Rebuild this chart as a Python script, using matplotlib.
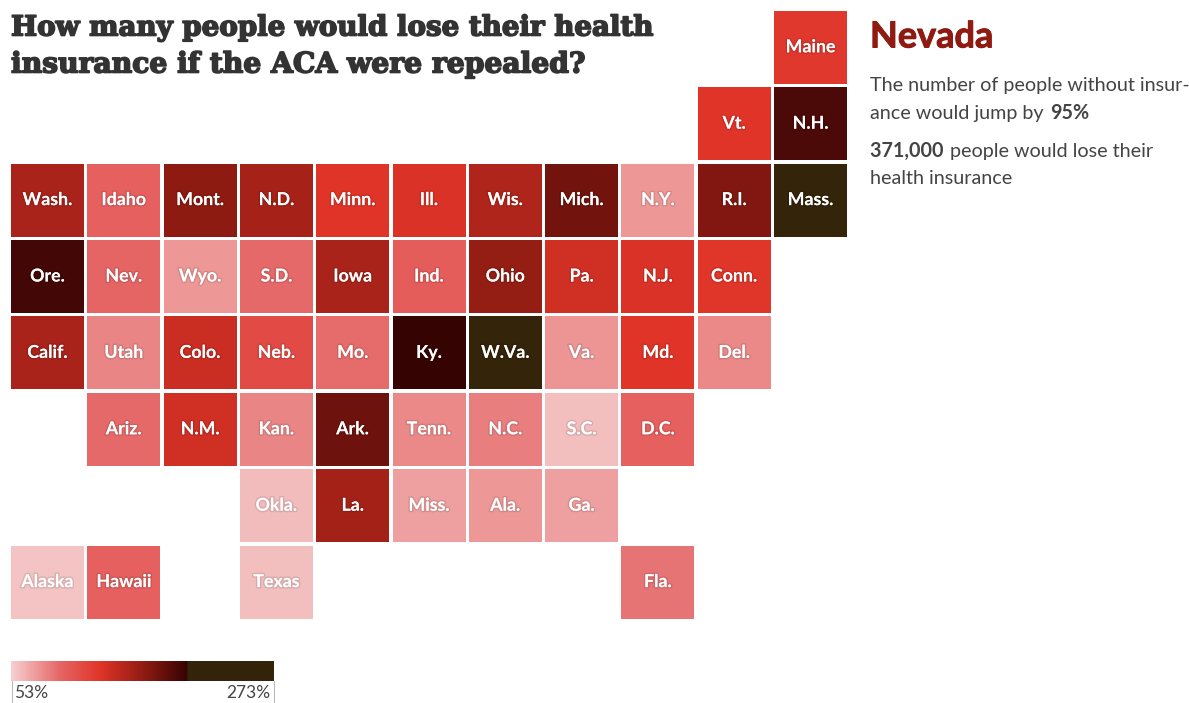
import matplotlib
matplotlib.use("Agg")
import matplotlib.pyplot as plt
import matplotlib.patheffects as pe
from matplotlib.colors import LinearSegmentedColormap, Normalize
from matplotlib.patches import Rectangle
import numpy as np

states = ["Maine", "Vt.", "N.H.",
          "Wash.", "Idaho", "Mont.", "N.D.", "Minn.", "Ill.", "Wis.", "Mich.", "N.Y.", "R.I.", "Mass.",
          "Ore.", "Nev.", "Wyo.", "S.D.", "Iowa", "Ind.", "Ohio", "Pa.", "N.J.", "Conn.",
          "Calif.", "Utah", "Colo.", "Neb.", "Mo.", "Ky.", "W.Va.", "Va.", "Md.", "Del.",
          "Ariz.", "N.M.", "Kan.", "Ark.", "Tenn.", "N.C.", "S.C.", "D.C.",
          "Okla.", "La.", "Miss.", "Ala.", "Ga.",
          "Alaska", "Hawaii", "Texas", "Fla."]
columns = [10, 9, 10,
           0, 1, 2, 3, 4, 5, 6, 7, 8, 9, 10,
           0, 1, 2, 3, 4, 5, 6, 7, 8, 9,
           0, 1, 2, 3, 4, 5, 6, 7, 8, 9,
           1, 2, 3, 4, 5, 6, 7, 8,
           3, 4, 5, 6, 7,
           0, 1, 3, 8]
rows = [0, 1, 1,
        2, 2, 2, 2, 2, 2, 2, 2, 2, 2, 2,
        3, 3, 3, 3, 3, 3, 3, 3, 3, 3,
        4, 4, 4, 4, 4, 4, 4, 4, 4, 4,
        5, 5, 5, 5, 5, 5, 5, 5,
        6, 6, 6, 6, 6,
        7, 7, 7, 7]
jump_pct = [125, 128, 192,
            152, 98, 165, 154, 128, 130, 150, 176, 75, 170, 273,
            195, 95, 75, 93, 152, 100, 162, 135, 130, 127,
            152, 82, 138, 112, 92, 200, 250, 76, 128, 81,
            93, 135, 82, 178, 81, 85, 60, 98,
            61, 155, 72, 75, 72,
            58, 98, 60, 89]
scale_min, scale_max = 53, 273

cmap = LinearSegmentedColormap.from_list("aca", [
    (0.0, "#f6d0d0"), (0.19, "#e56464"), (0.34, "#e03428"), (0.5, "#921c13"),
    (0.67, "#360303"), (0.672, "#33240a"), (1.0, "#33240a")], N=512)
norm = Normalize(scale_min, scale_max)

W, H = 1189, 703
fig = plt.figure(figsize=(W / 100, H / 100), dpi=100, facecolor="white")
ax = fig.add_axes([0, 0, 1, 1])
ax.set_xlim(0, W)
ax.set_ylim(H, 0)
ax.axis("off")

body = "Lato"
x0, y0, px, py, side = 11, 10.8, 76.3, 76.4, 73
label_fx = [pe.withStroke(linewidth=2.2, foreground=(0, 0, 0, 0.10))]
for s, c, r, v in zip(states, columns, rows, jump_pct):
    ax.add_patch(Rectangle((x0 + c * px, y0 + r * py), side, side, fc=cmap(norm(v)), ec="none"))
    ax.text(x0 + c * px + side / 2, y0 + r * py + side / 2 - 0.5, s, color="white", fontsize=12.8,
            fontweight="bold", family=body, ha="center", va="center", path_effects=label_fx)

title_fx = [pe.withStroke(linewidth=1.2, foreground="#333333")]
for y, line, size in [(28, "How many people would lose their health", 19.95),
                      (65, "insurance if the ACA were repealed?", 20.3)]:
    ax.text(11, y, line, fontsize=size, fontweight="bold", family="DejaVu Serif",
            color="#333333", ha="left", va="center", path_effects=title_fx)

ax.text(870, 37, "Nevada", fontsize=26, fontweight="bold", family=body, color="#8f1a12",
        ha="left", va="center", path_effects=[pe.withStroke(linewidth=0.7, foreground="#8f1a12")])

renderer = fig.canvas.get_renderer()
def runs(x, y, parts):
    for text, weight in parts:
        t = ax.text(x, y, text, fontsize=14.2, fontweight=weight, family=body, color="#444444",
                    ha="left", va="center")
        x += t.get_window_extent(renderer).width + (1.5 if text.endswith(" ") else 0)

runs(870, 85, [("The number of people without insur-", "normal")])
runs(870, 113, [("ance would jump by ", "normal"), ("95%", "bold")])
runs(870, 151, [("371,000 ", "bold"), ("people would lose their", "normal")])
runs(870, 179, [("health insurance", "normal")])

# colour legend
lx0, lx1, ly0, ly1 = 11, 273.5, 661, 681
grad = np.linspace(0, 1, 512).reshape(1, -1)
ax.imshow(grad, extent=(lx0, lx1, ly1, ly0), cmap=cmap, vmin=0, vmax=1, aspect="auto", zorder=2)
ax.set_xlim(0, W)
ax.set_ylim(H, 0)
for lx in (lx0 + 0.5, lx1):
    ax.plot([lx, lx], [ly1, 703], color="#bbbbbb", lw=0.8)
ax.text(14, 693, f"{scale_min}%", fontsize=12.5, family=body, color="#444444", ha="left", va="center")
ax.text(270, 693, f"{scale_max}%", fontsize=12.5, family=body, color="#444444", ha="right", va="center")

fig.savefig("out.png", dpi=100, facecolor="white")
